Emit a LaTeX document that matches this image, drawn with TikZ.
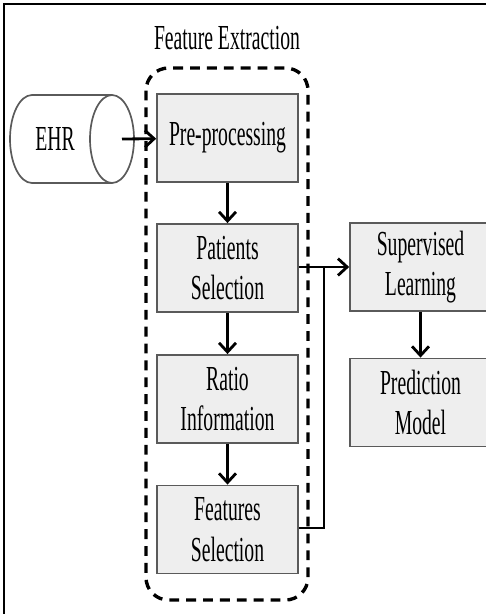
\documentclass[tikz,border=0pt]{standalone}
\usepackage{fontspec}
\setmainfont[FakeStretch=0.56]{Liberation Serif}
\usepackage{xcolor}
\usetikzlibrary{arrows.meta,positioning,shapes.geometric}
\definecolor{boxfill}{HTML}{EEEEEE}
\definecolor{boxline}{HTML}{5A5A5A}

\begin{document}
\begin{tikzpicture}[x=0.025cm,y=-0.025cm,
          every node/.style={font=\fontsize{25}{29}\selectfont},
          stage/.style={draw=boxline,line width=1.3pt,fill=boxfill,
                        minimum width=3.52cm,minimum height=2.2cm,
                        align=center,inner sep=1pt},
          drum/.style={draw=boxline,line width=1.2pt,fill=white},
          arr/.style={line width=2pt,-{Straight Barb[length=6.5pt,width=12pt,line width=2pt]}},
      ]
        \useasboundingbox (0,0) rectangle (486,614);
        \draw[line width=1.4pt] (4,614) -- (4,4) -- (486,4);

        % feature extraction group
        \draw[line width=2.4pt,dash pattern=on 7pt off 5pt,rounded corners=16pt]
          (146,68) rectangle (308,600);
        \node (title) at (227,38) {Feature Extraction};

        % EHR store as a lying cylinder
        \draw[drum] (112,95) -- (32,95) arc[start angle=-90,end angle=-270,
          x radius=22,y radius=44] -- (112,183);
        \draw[drum] (112,139) ellipse[x radius=22,y radius=44];
        \node (ehr) at (55,139) {EHR};
        \coordinate (ehrout) at (122,139);

        \node[stage] (pre) at (227.5,138) {Pre-processing};
        \node[stage] (pat) at (227.5,268) {Patients\\Selection};
        \node[stage] (ratio) at (227.5,399) {Ratio\\Information};
        \node[stage] (feat) at (227.5,529.5) {Features\\Selection};

        \node[stage] (sup) at (420.5,267) {Supervised\\Learning};
        \node[stage] (pred) at (420.5,402.5) {Prediction\\Model};

        \coordinate (join) at (324,267);

        \draw[arr] (ehrout) -- (pre);
        \draw[arr] (pre) -- (pat);
        \draw[arr] (pat) -- (ratio);
        \draw[arr] (ratio) -- (feat);
        \draw[arr] (pat.east |- join) -- (sup.west |- join);
        \draw[line width=2pt] (feat.east |- 0,528) -| (join);
        \draw[arr] (sup) -- (pred);
      \end{tikzpicture}
\end{document}
